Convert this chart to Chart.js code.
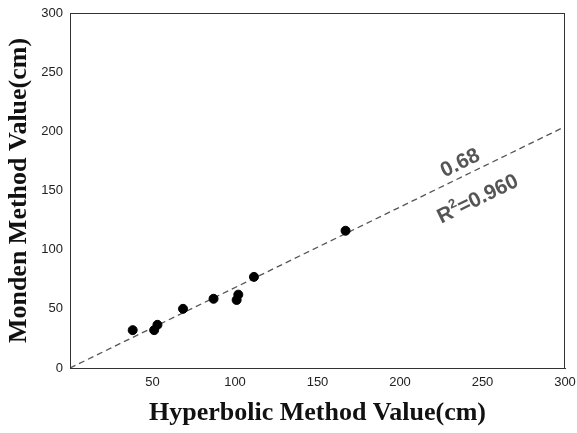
<!DOCTYPE html>
<html>
<head>
<meta charset="utf-8">
<script src="https://cdn.jsdelivr.net/npm/chart.js@4/dist/chart.umd.min.js"></script>
<style>
  body { margin: 0; background: #fff; }
  #wrap { width: 577px; height: 433px; }
</style>
</head>
<body>
<div id="wrap"><canvas id="scatter" width="577" height="433"></canvas></div>
<script>
// measured values (cm)
var hyperbolic = [38, 51, 53, 68.5, 87, 101, 102, 111.5, 167];
var monden = [32, 32, 36.5, 50, 58.5, 57.5, 62, 77, 116];

// fitted line through origin
var slope = 0.68;
var rSquared = 0.960;
var lineX = [0, 300];

var xTicks = [0, 50, 100, 150, 200, 250, 300];
var yTicks = [0, 50, 100, 150, 200, 250, 300];

var points = hyperbolic.map(function(v, i){ return {x: v, y: monden[i]}; });
var fitLine = lineX.map(function(v){ return {x: v, y: slope * v}; });

var labelFont = '"Liberation Sans", Arial, sans-serif';
var titleFont = '"Liberation Serif", "Times New Roman", serif';

// box around the plot area + slope / R² text along the fitted line
var boxAndLabels = {
    id: 'boxAndLabels',
    afterDraw: function(chart){
        var ctx = chart.ctx;
        var a = chart.chartArea;
        var xs = chart.scales.x, ys = chart.scales.y;
        ctx.save();
        ctx.strokeStyle = '#333';
        ctx.lineWidth = 1;
        ctx.strokeRect(a.left + 0.5, a.top + 0.5, a.right - a.left - 1, a.bottom - a.top);

        var x0 = xs.getPixelForValue(0), y0 = ys.getPixelForValue(0);
        var x1 = xs.getPixelForValue(300), y1 = ys.getPixelForValue(300 * slope);
        var ang = Math.atan2(y1 - y0, x1 - x0);
        var px = xs.getPixelForValue(240), py = ys.getPixelForValue(240 * slope);

        ctx.translate(px, py);
        ctx.rotate(ang);
        ctx.fillStyle = '#555';
        ctx.textAlign = 'center';
        ctx.textBaseline = 'alphabetic';
        ctx.font = 'bold 21px ' + labelFont;
        ctx.fillText(slope.toFixed(2), 0, -7);

        // R² with a small superscript
        var r = 'R', eq = '=' + rSquared.toFixed(3);
        var wR = ctx.measureText(r).width, wEq = ctx.measureText(eq).width;
        ctx.font = 'bold 13px ' + labelFont;
        var wSup = ctx.measureText('2').width;
        var sx = -(wR + wSup + wEq) / 2, base = 33;
        ctx.textAlign = 'left';
        ctx.font = 'bold 21px ' + labelFont;
        ctx.fillText(r, sx, base);
        ctx.font = 'bold 13px ' + labelFont;
        ctx.fillText('2', sx + wR, base - 9);
        ctx.font = 'bold 21px ' + labelFont;
        ctx.fillText(eq, sx + wR + wSup, base);
        ctx.restore();
    }
};

new Chart(document.getElementById('scatter'), {
    type: 'scatter',
    data: {
        datasets: [{
            label: 'Measured',
            data: points,
            backgroundColor: '#000',
            borderColor: '#000',
            pointRadius: 4.5,
            pointHoverRadius: 4.5
        }, {
            type: 'line',
            label: 'Fit',
            data: fitLine,
            borderColor: '#555',
            borderWidth: 1.3,
            borderDash: [6, 4],
            pointRadius: 0,
            fill: false
        }]
    },
    options: {
        responsive: false,
        animation: false,
        layout: { padding: { top: 13, right: 0, left: 0, bottom: 4 } },
        plugins: {
            legend: { display: false },
            tooltip: { enabled: false }
        },
        scales: {
            x: {
                type: 'linear',
                min: 0,
                max: 300,
                afterBuildTicks: function(axis){ axis.ticks = xTicks.map(function(v){ return {value: v}; }); },
                afterFit: function(axis){
                    axis.height = 61;
                    axis.paddingLeft = 0;
                    axis.paddingRight = 12;
                },
                grid: { display: false, tickLength: 0 },
                border: { display: true, color: '#333', width: 1 },
                ticks: {
                    color: '#222',
                    padding: 7,
                    maxRotation: 0,
                    font: { family: labelFont, size: 13 },
                    callback: function(v){ return v === 0 ? '' : v; }
                },
                title: {
                    display: true,
                    text: 'Hyperbolic Method Value(cm)',
                    color: '#111',
                    padding: { top: 5, bottom: 0 },
                    font: { family: titleFont, size: 26, weight: 'bold' }
                }
            },
            y: {
                min: 0,
                max: 300,
                afterBuildTicks: function(axis){ axis.ticks = yTicks.map(function(v){ return {value: v}; }); },
                afterFit: function(axis){
                    axis.width = 70;
                    axis.paddingTop = 0;
                    axis.paddingBottom = 0;
                },
                grid: { display: false, tickLength: 0 },
                border: { display: true, color: '#333', width: 1 },
                ticks: {
                    color: '#222',
                    padding: 7,
                    font: { family: labelFont, size: 13 }
                },
                title: {
                    display: true,
                    text: 'Monden Method Value(cm)',
                    color: '#111',
                    padding: { top: 4, bottom: 4 },
                    font: { family: titleFont, size: 26, weight: 'bold' }
                }
            }
        }
    },
    plugins: [boxAndLabels]
});
</script>
</body>
</html>
